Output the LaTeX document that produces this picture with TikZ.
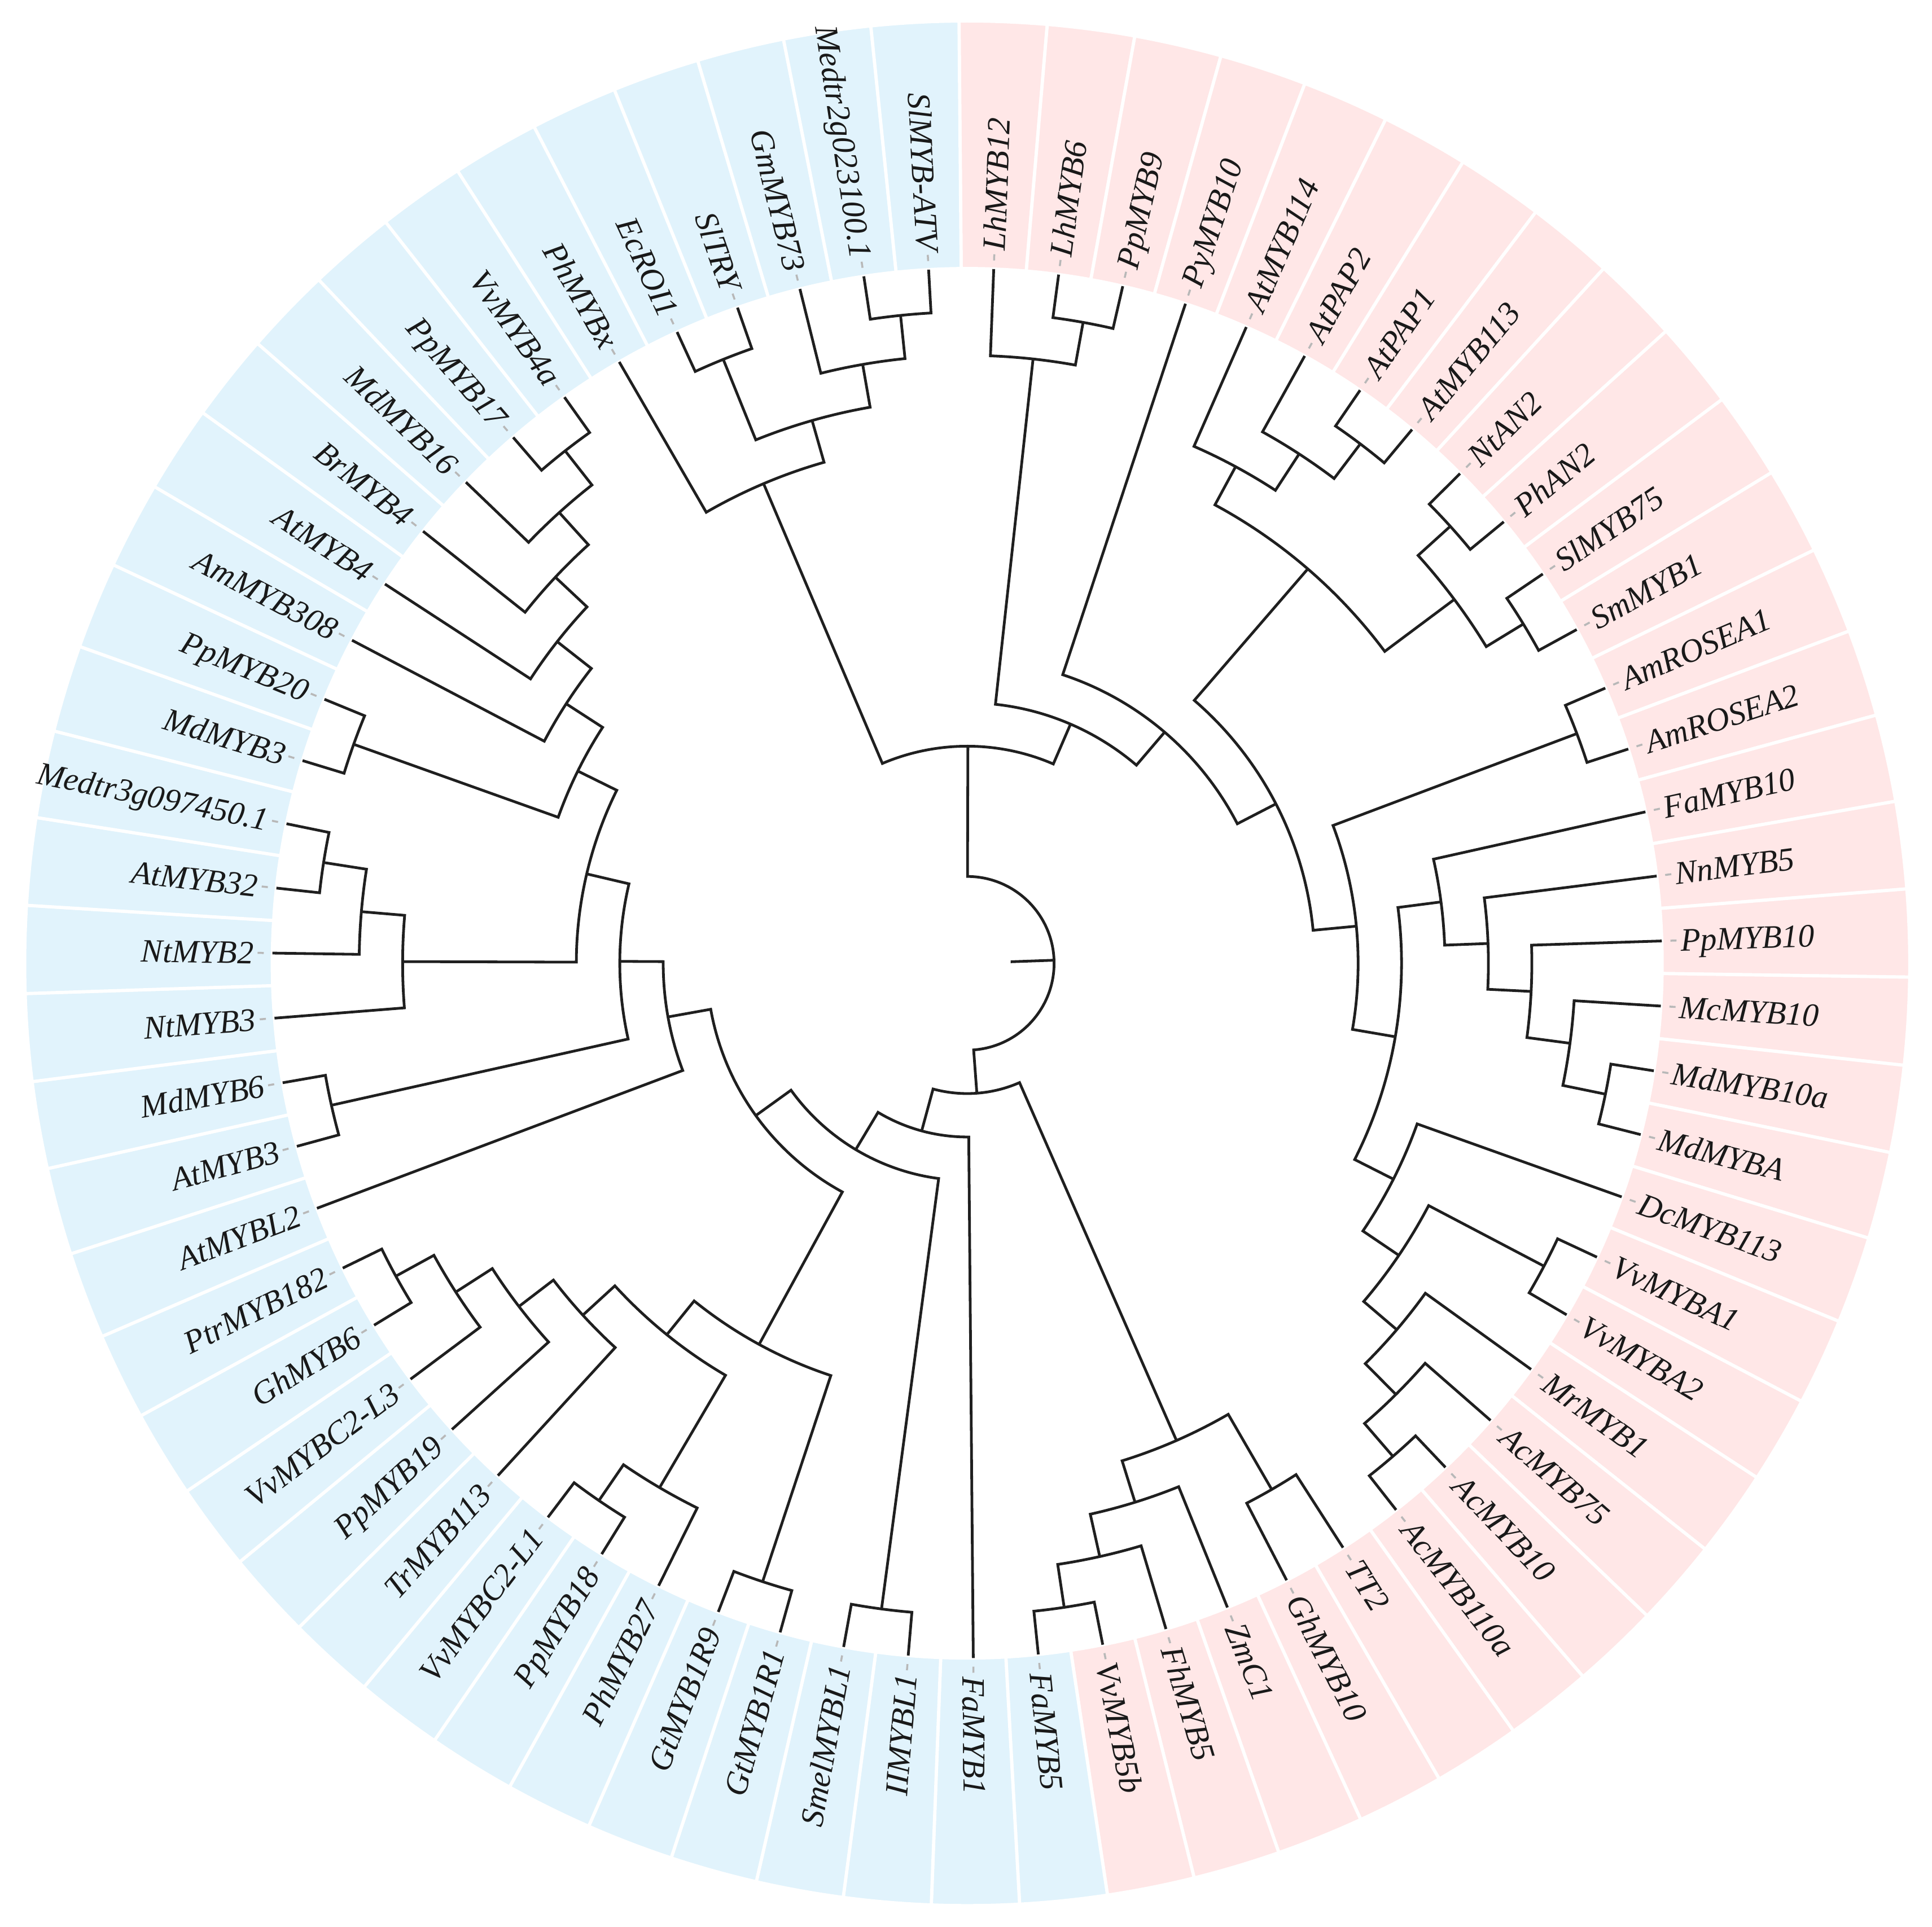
\documentclass[tikz,border=0pt]{standalone}
\usepackage{fontspec}
\setmainfont{Liberation Serif}
\definecolor{wblue}{RGB}{225,243,252}
\definecolor{wpink}{RGB}{255,231,231}
\newcommand\stp{35.25}
\newcommand\dlt{5.3731343}
\newcommand\leafnode[3]{%
  \pgfmathsetmacro\tL{90.5-(#2+0.5)*\dlt+360*(#2>60)}%
  \expandafter\xdef\csname ang@#1\endcsname{\tL}%
  \pgfmathsetmacro\tWa{\tL+\dlt/2}%
  \pgfmathsetmacro\tWb{\tL-\dlt/2}%
  \pgfmathtruncatemacro\tC{#2>31}%
  \ifnum\tC=1 \def\tCol{wblue}\else\def\tCol{wpink}\fi
  \filldraw[wedge, fill=\tCol] (\tWa:564pt) arc[start angle=\tWa, end angle=\tWb, radius=564pt]
     -- (\tWb:765pt) arc[start angle=\tWb, end angle=\tWa, radius=765pt] -- cycle;
  \coordinate (#1) at (\tL:564pt);
  \draw[tipdash] (\tL:571pt) -- (\tL:576pt);
  \pgfmathtruncatemacro\tS{cos(\tL)<0}%
  \ifnum\tS=1
    \pgfmathsetmacro\tR{\tL+180}%
    \node[lbl, anchor=east, rotate=\tR] (t#1) at (\tL:579pt) {#3};
  \else
    \node[lbl, anchor=west, rotate=\tL] (t#1) at (\tL:579pt) {#3};
  \fi
}
\newcommand\clade[4]{%
  \pgfmathsetmacro\tA{\csname ang@#2\endcsname}%
  \pgfmathsetmacro\tB{\csname ang@#3\endcsname}%
  \pgfmathsetmacro\tP{(\tA+\tB)/2}%
  \pgfmathsetmacro\tRad{#4*\stp}%
  \expandafter\xdef\csname ang@#1\endcsname{\tP}%
  \coordinate (#1) at (\tP:\tRad pt);
  \draw[branch] (#2) -- (\tA:\tRad pt) arc[start angle=\tA, end angle=\tB, radius=\tRad pt] -- (#3);
}
\begin{document}
\begin{tikzpicture}[x=1pt,y=1pt,
  branch/.style={line width=2.2pt, draw=black!88, line join=miter},
  wedge/.style={draw=white, line width=2.6pt},
  tipdash/.style={draw=black!28, line width=1.6pt},
  lbl/.style={font=\itshape\fontsize{26.5}{26.5}\selectfont, inner sep=0pt, text height=17.5pt, text depth=0pt, text=black!90}]
\path[use as bounding box, fill=white] (-785,-782) rectangle (783,782);
% leaves
\leafnode{LhMYB12}{0}{LhMYB12}
\leafnode{LhMYB6}{1}{LhMYB6}
\leafnode{PpMYB9}{2}{PpMYB9}
\leafnode{PyMYB10}{3}{PyMYB10}
\leafnode{AtMYB114}{4}{AtMYB114}
\leafnode{AtPAP2}{5}{AtPAP2}
\leafnode{AtPAP1}{6}{AtPAP1}
\leafnode{AtMYB113}{7}{AtMYB113}
\leafnode{NtAN2}{8}{NtAN2}
\leafnode{PhAN2}{9}{PhAN2}
\leafnode{SlMYB75}{10}{SlMYB75}
\leafnode{SmMYB1}{11}{SmMYB1}
\leafnode{AmROSEA1}{12}{AmROSEA1}
\leafnode{AmROSEA2}{13}{AmROSEA2}
\leafnode{FaMYB10}{14}{FaMYB10}
\leafnode{NnMYB5}{15}{NnMYB5}
\leafnode{PpMYB10}{16}{PpMYB10}
\leafnode{McMYB10}{17}{McMYB10}
\leafnode{MdMYB10a}{18}{MdMYB10a}
\leafnode{MdMYBA}{19}{MdMYBA}
\leafnode{DcMYB113}{20}{DcMYB113}
\leafnode{VvMYBA1}{21}{VvMYBA1}
\leafnode{VvMYBA2}{22}{VvMYBA2}
\leafnode{MrMYB1}{23}{MrMYB1}
\leafnode{AcMYB75}{24}{AcMYB75}
\leafnode{AcMYB10}{25}{AcMYB10}
\leafnode{AcMYB110a}{26}{AcMYB110a}
\leafnode{TT2}{27}{TT2}
\leafnode{GhMYB10}{28}{GhMYB10}
\leafnode{ZmC1}{29}{ZmC1}
\leafnode{FhMYB5}{30}{FhMYB5}
\leafnode{VvMYB5b}{31}{VvMYB5b}
\leafnode{FaMYB5}{32}{FaMYB5}
\leafnode{FaMYB1}{33}{FaMYB1}
\leafnode{IIMYBL1}{34}{IIMYBL1}
\leafnode{SmelMYBL1}{35}{SmelMYBL1}
\leafnode{GtMYB1R1}{36}{GtMYB1R1}
\leafnode{GtMYB1R9}{37}{GtMYB1R9}
\leafnode{PhMYB27}{38}{PhMYB27}
\leafnode{PpMYB18}{39}{PpMYB18}
\leafnode{VvMYBC2L1}{40}{VvMYBC2-L1}
\leafnode{TrMYB113}{41}{TrMYB113}
\leafnode{PpMYB19}{42}{PpMYB19}
\leafnode{VvMYBC2L3}{43}{VvMYBC2-L3}
\leafnode{GhMYB6}{44}{GhMYB6}
\leafnode{PtrMYB182}{45}{PtrMYB182}
\leafnode{AtMYBL2}{46}{AtMYBL2}
\leafnode{AtMYB3}{47}{AtMYB3}
\leafnode{MdMYB6}{48}{MdMYB6}
\leafnode{NtMYB3}{49}{NtMYB3}
\leafnode{NtMYB2}{50}{NtMYB2}
\leafnode{AtMYB32}{51}{AtMYB32}
\leafnode{Medtrthree}{52}{Medtr3g097450.1}
\leafnode{MdMYB3}{53}{MdMYB3}
\leafnode{PpMYB20}{54}{PpMYB20}
\leafnode{AmMYB308}{55}{AmMYB308}
\leafnode{AtMYB4}{56}{AtMYB4}
\leafnode{BrMYB4}{57}{BrMYB4}
\leafnode{MdMYB16}{58}{MdMYB16}
\leafnode{PpMYB17}{59}{PpMYB17}
\leafnode{VvMYB4a}{60}{VvMYB4a}
\leafnode{PhMYBx}{61}{PhMYBx}
\leafnode{EcROI1}{62}{EcROI1}
\leafnode{SlTRY}{63}{SlTRY}
\leafnode{GmMYB73}{64}{GmMYB73}
\leafnode{Medtrtwo}{65}{Medtr2g023100.1}
\leafnode{SlMYBATV}{66}{SlMYB-ATV}
% upper clade
\clade{NES}{EcROI1}{SlTRY}{15}
\clade{NMS}{Medtrtwo}{SlMYBATV}{15}
\clade{NGM}{GmMYB73}{NMS}{14}
\clade{AoneB}{NES}{NGM}{13}
\clade{Aone}{PhMYBx}{AoneB}{12}
\clade{NLP}{LhMYB6}{PpMYB9}{15}
\clade{AtwoA}{LhMYB12}{NLP}{14}
\clade{NPAPone}{AtPAP1}{AtMYB113}{15}
\clade{NPtwo}{AtPAP2}{NPAPone}{14}
\clade{NAtMYB}{AtMYB114}{NPtwo}{13}
\clade{NNP}{NtAN2}{PhAN2}{15}
\clade{NSS}{SlMYB75}{SmMYB1}{15}
\clade{NAtwo}{NNP}{NSS}{14}
\clade{NAt}{NAtMYB}{NAtwo}{12}
\clade{NAm}{AmROSEA1}{AmROSEA2}{15}
\clade{NMd}{MdMYB10a}{MdMYBA}{15}
\clade{NMc}{McMYB10}{NMd}{14}
\clade{NPp}{PpMYB10}{NMc}{13}
\clade{NNn}{NnMYB5}{NPp}{12}
\clade{NFa}{FaMYB10}{NNn}{11}
\clade{NVV}{VvMYBA1}{VvMYBA2}{15}
\clade{NActwo}{AcMYB10}{AcMYB110a}{15}
\clade{NAcone}{AcMYB75}{NActwo}{14}
\clade{NMr}{MrMYB1}{NAcone}{13}
\clade{NV}{NVV}{NMr}{12}
\clade{NDc}{DcMYB113}{NV}{11}
\clade{NS}{NFa}{NDc}{10}
\clade{NR}{NAm}{NS}{9}
\clade{Nbig}{NAt}{NR}{8}
\clade{AtwoB}{PyMYB10}{Nbig}{7}
\clade{Atwo}{AtwoA}{AtwoB}{6}
\clade{A}{Aone}{Atwo}{5}
% lower clade
\clade{NTT}{TT2}{GhMYB10}{14}
\clade{NFfive}{FaMYB5}{VvMYB5b}{15}
\clade{NFfour}{FhMYB5}{NFfive}{14}
\clade{NFthree}{ZmC1}{NFfour}{13}
\clade{Btwo}{NTT}{NFthree}{12}
\clade{NIS}{IIMYBL1}{SmelMYBL1}{15}
\clade{NGG}{GtMYB1R1}{GtMYB1R9}{15}
\clade{NPV}{PpMYB18}{VvMYBC2L1}{15}
\clade{NPh}{PhMYB27}{NPV}{14}
\clade{NPG}{GhMYB6}{PtrMYB182}{15}
\clade{NVG}{VvMYBC2L3}{NPG}{14}
\clade{NPP}{PpMYB19}{NVG}{13}
\clade{NTr}{TrMYB113}{NPP}{12}
\clade{NT}{NPh}{NTr}{11}
\clade{NG}{NGG}{NT}{10}
\clade{NMA}{AtMYB3}{MdMYB6}{15}
\clade{NHthree}{AtMYB32}{Medtrthree}{15}
\clade{NHtwo}{NtMYB2}{NHthree}{14}
\clade{NH}{NtMYB3}{NHtwo}{13}
\clade{NMP}{MdMYB3}{PpMYB20}{15}
\clade{NBfour}{PpMYB17}{VvMYB4a}{15}
\clade{NC}{MdMYB16}{NBfour}{14}
\clade{ND}{BrMYB4}{NC}{13}
\clade{NE}{AtMYB4}{ND}{12}
\clade{NF}{AmMYB308}{NE}{11}
\clade{NGtwo}{NMP}{NF}{10}
\clade{NI}{NH}{NGtwo}{9}
\clade{NJ}{NMA}{NI}{8}
\clade{NK}{AtMYBL2}{NJ}{7}
\clade{NL}{NK}{NG}{6}
\clade{NM}{NL}{NIS}{5}
\clade{Bone}{NM}{FaMYB1}{4}
\clade{B}{Btwo}{Bone}{3}
\clade{root}{A}{B}{2}
\coordinate (rootstub) at (\tP:\stp pt);
\draw[branch] (rootstub) -- (root);
\end{tikzpicture}
\end{document}
